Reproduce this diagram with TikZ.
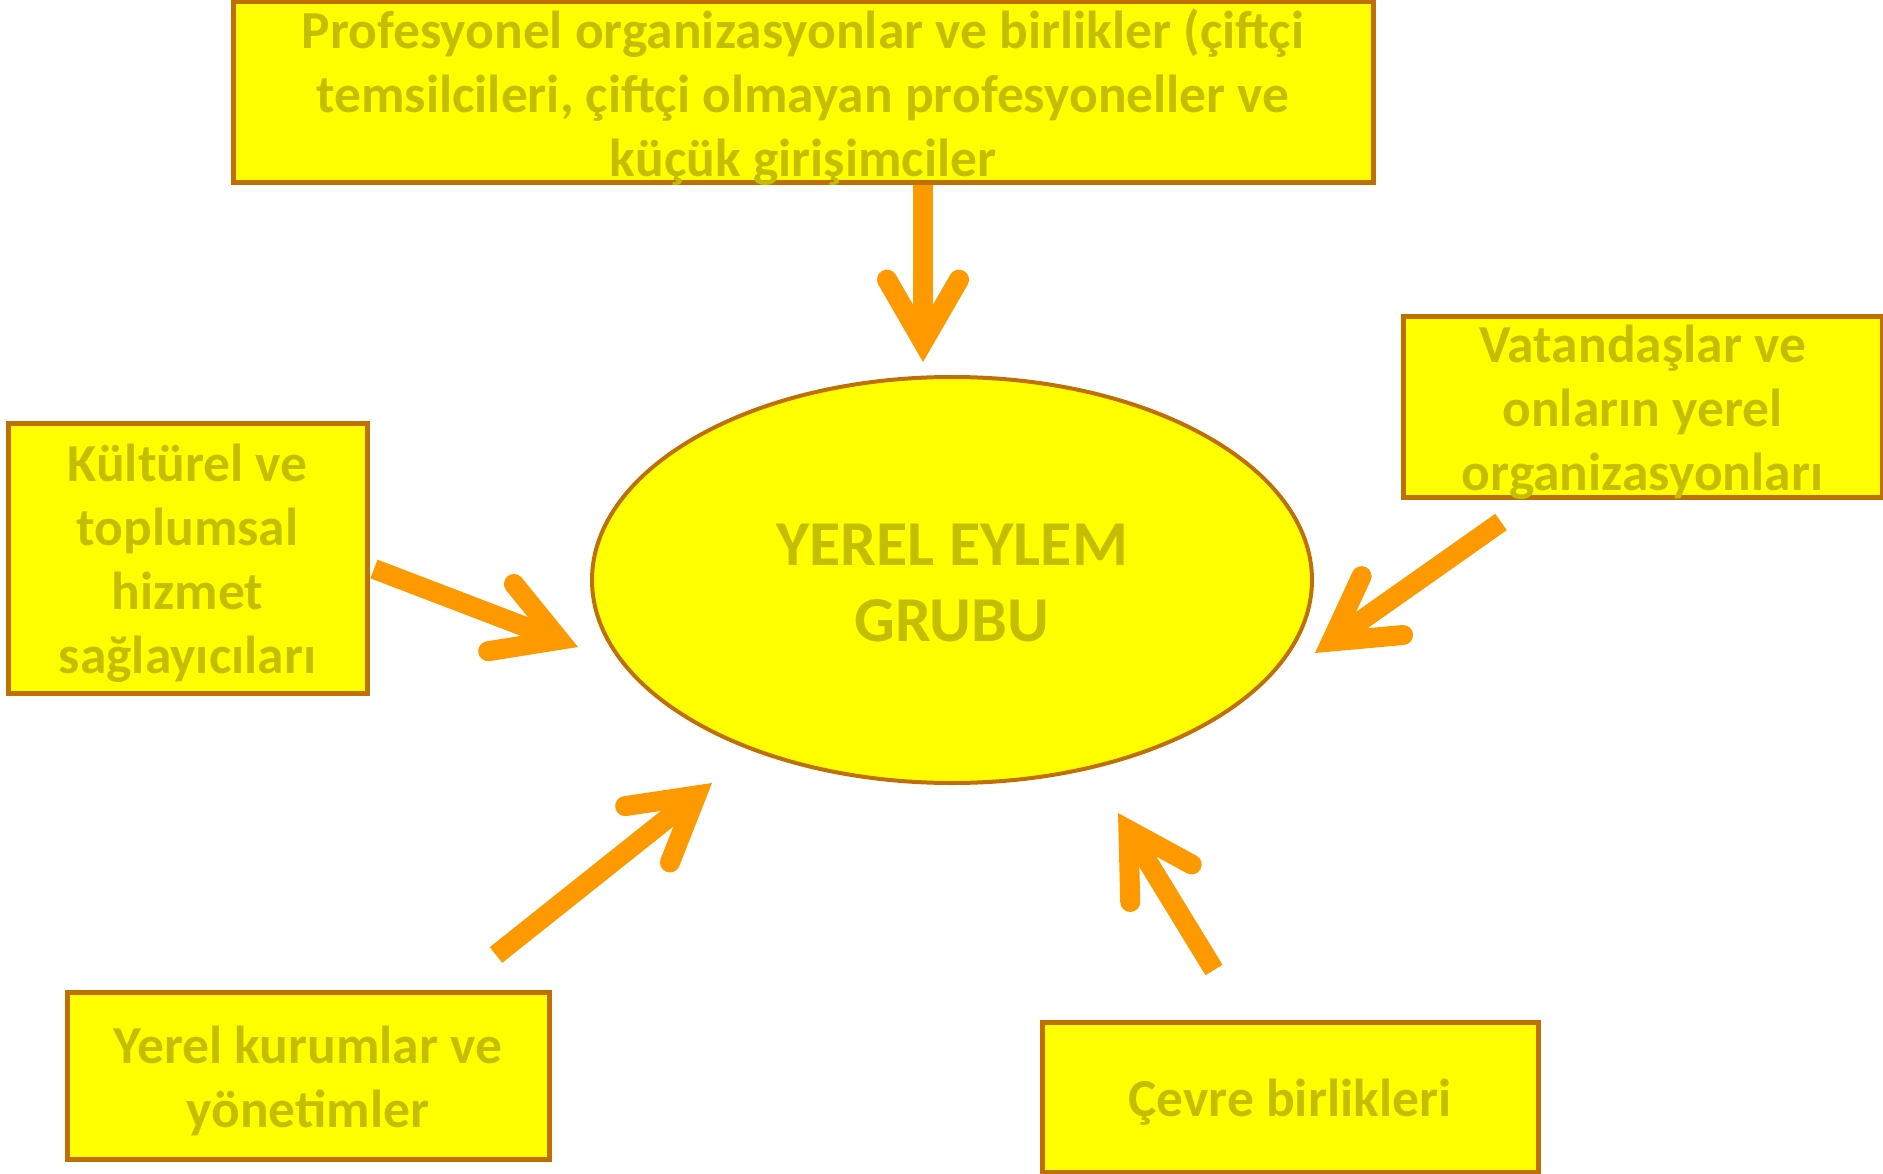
\documentclass[tikz,border=0pt]{standalone}
\usepackage{fontspec}
\setmainfont{Carlito}
\usetikzlibrary{calc,shapes.geometric}
\definecolor{boxfill}{HTML}{FFFF00}
\definecolor{boxline}{HTML}{BF7000}
\definecolor{txt}{HTML}{C4BE00}
\definecolor{arr}{HTML}{FF9900}
\tikzset{
  box/.style={rectangle, draw=boxline, fill=boxfill, line width=5pt, inner sep=0pt},
  boxtext/.style={inner sep=0pt, align=center, text=txt, yshift=-5pt,
    font=\fontsize{53.5}{64}\selectfont\bfseries},
  hub/.style={ellipse, draw=boxline, fill=boxfill, line width=4pt, inner sep=0pt,
    minimum width=720pt, minimum height=406pt},
  hubtext/.style={inner sep=0pt, align=center, text=txt, yshift=-3pt,
    font=\fontsize{64}{76}\selectfont\bfseries},
  shaft/.style={draw=arr, line width=20pt, line cap=butt},
  head/.style={draw=arr, line width=20pt, line cap=round, line join=miter}
}
\newcommand{\myarrow}[1]{%
  \coordinate (p#1) at ($(t#1)!20pt!(s#1)$);
  \draw[shaft] (s#1) -- (p#1);
  \draw[head] ($(p#1)!72pt!30:(s#1)$) -- (p#1) -- ($(p#1)!72pt!-30:(s#1)$);
}
\begin{document}
\begin{tikzpicture}[x=1pt,y=-1pt]
\useasboundingbox (0,0) rectangle (1883,1174);
% hub
\node[hub] (hub) at (952,580) {};
\node[hubtext] (hubT) at (hub.center) {YEREL EYLEM\\GRUBU};
% boxes
\node[box, minimum width=1140pt, minimum height=181pt] (top) at (803,92.5) {};
\node[boxtext] (topT) at (top.center)
  {Profesyonel organizasyonlar ve birlikler (çiftçi\\temsilcileri, çiftçi olmayan profesyoneller ve\\küçük girişimciler};
\node[box, minimum width=359pt, minimum height=270pt] (left) at (187.5,558) {};
\node[boxtext] (leftT) at (left.center)
  {Kültürel ve\\toplumsal\\hizmet\\sağlayıcıları};
\node[box, minimum width=479pt, minimum height=180pt] (right) at (1642.5,407) {};
\node[boxtext] (rightT) at (right.center)
  {Vatandaşlar ve\\onların yerel\\organizasyonları};
\node[box, minimum width=482pt, minimum height=167pt] (bl) at (308,1075.5) {};
\node[boxtext] (blT) at (bl.center)
  {Yerel kurumlar ve\\yönetimler};
\node[box, minimum width=496pt, minimum height=150pt] (br) at (1290,1097) {};
\node[boxtext] (brT) at (br.center)
  {Çevre birlikleri};
% arrow coordinates
\coordinate (s1) at (top.south -| 923,0); \coordinate (t1) at (923,362);
\coordinate (s2) at (374,569);  \coordinate (t2) at (578,647);
\coordinate (s3) at (1501,522); \coordinate (t3) at (1315,653);
\coordinate (s4) at (496,955);  \coordinate (t4) at (712,783);
\coordinate (s5) at (1214,970); \coordinate (t5) at (1118,813);
\myarrow{1}
\myarrow{2}
\myarrow{3}
\myarrow{4}
\myarrow{5}
\end{tikzpicture}
\end{document}
